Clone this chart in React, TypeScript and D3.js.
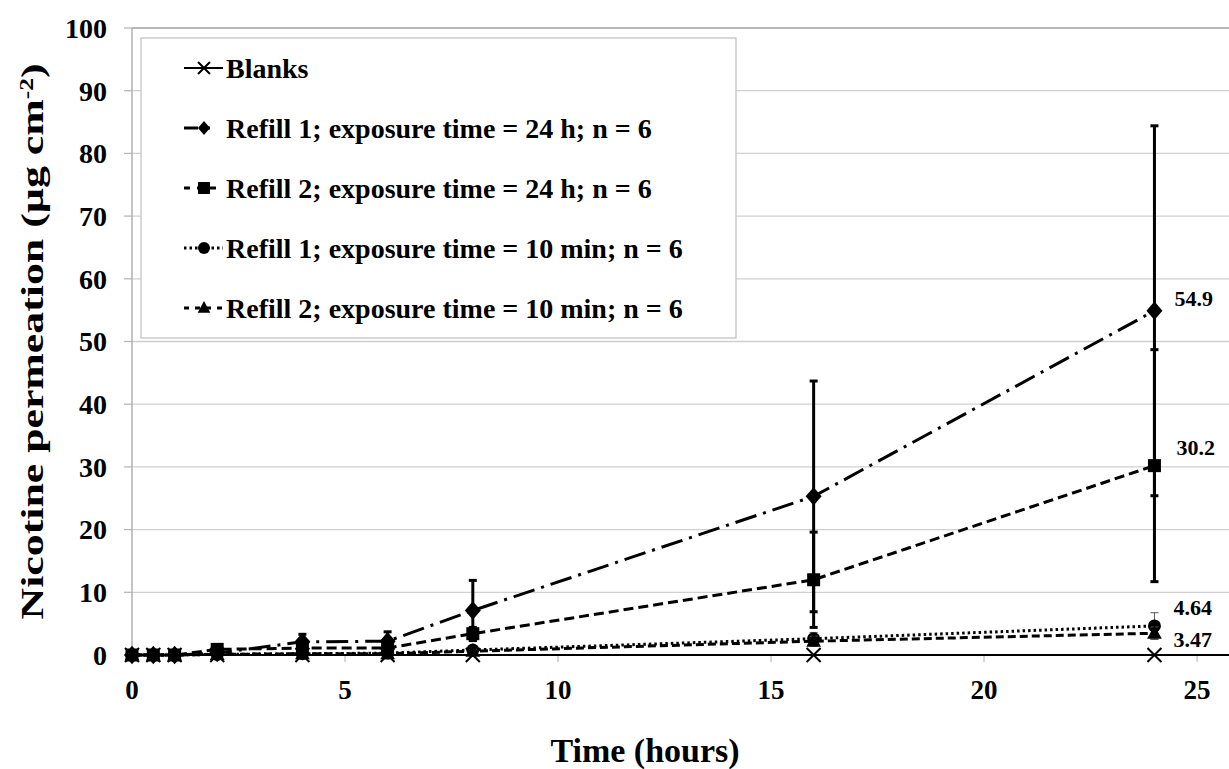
import React from "react";
import * as d3 from "d3";

// sampling times (hours)
const times = [0, 0.5, 1, 2, 4, 6, 8, 16, 24];

const blanks = [0, 0, 0, 0, 0, 0, 0, 0, 0];
const refill1Day = [0, 0, 0, 0.3, 2.1, 2.2, 7.1, 25.3, 54.9];
const refill1DaySd = [0, 0, 0, 0.2, 1.2, 1.5, 4.8, 18.4, 29.5];
const refill2Day = [0, 0, 0, 0.9, 1.1, 1.1, 3.4, 12.0, 30.2];
const refill2DaySd = [0, 0, 0, 0.2, 0.3, 0.3, 1.0, 7.6, 18.5];
const refill1Min = [0, 0, 0, 0.1, 0.2, 0.3, 0.8, 2.6, 4.64];
const refill1MinSd = [0.3, 0.3, 0.3, 0.2, 0.2, 0.3, 0.4, 1.0, 2.1];
const refill2Min = [0, 0, 0, 0.1, 0.2, 0.2, 0.6, 2.2, 3.47];
const refill2MinSd = [0.2, 0.2, 0.2, 0.1, 0.1, 0.1, 0.3, 0.8, 1.0];

const legendLabels = [
  "Blanks",
  "Refill 1; exposure time = 24 h; n = 6",
  "Refill 2; exposure time = 24 h; n = 6",
  "Refill 1; exposure time = 10 min; n = 6",
  "Refill 2; exposure time = 10 min; n = 6",
];
const endLabels = ["54.9", "30.2", "4.64", "3.47"];

const xTicks = [0, 5, 10, 15, 20, 25];
const yTicks = [0, 10, 20, 30, 40, 50, 60, 70, 80, 90, 100];

const W = 1229;
const H = 769;
const SERIF = "Liberation Serif";

type Marker = "x" | "diamond" | "square" | "circle" | "triangle";

function markerPath(kind: Marker, r: number) {
  switch (kind) {
    case "diamond":
      return `M0,${-r * 1.15}L${r},0L0,${r * 1.15}L${-r},0Z`;
    case "square":
      return `M${-r},${-r}H${r}V${r}H${-r}Z`;
    case "circle":
      return d3.symbol(d3.symbolCircle, Math.PI * r * r)() as string;
    case "triangle":
      return `M0,${-r * 1.15}L${r * 1.05},${r * 0.8}L${-r * 1.05},${r * 0.8}Z`;
    default:
      return `M${-r},${-r}L${r},${r}M${r},${-r}L${-r},${r}`;
  }
}

const series = [
  { values: blanks, sd: null as number[] | null, marker: "x" as Marker, dash: "", legDash: "", lw: 2, r: 7, ebw: 0 },
  { values: refill1Day, sd: refill1DaySd, marker: "diamond" as Marker, dash: "22,7,3,7", legDash: "14,10,2,20", lw: 3, r: 8, ebw: 3 },
  { values: refill2Day, sd: refill2DaySd, marker: "square" as Marker, dash: "10,5", legDash: "6,7", lw: 3, r: 6.5, ebw: 3 },
  { values: refill1Min, sd: refill1MinSd, marker: "circle" as Marker, dash: "2.5,3", legDash: "2.5,3", lw: 3, r: 6.5, ebw: 1 },
  { values: refill2Min, sd: refill2MinSd, marker: "triangle" as Marker, dash: "8,4", legDash: "5,6", lw: 3, r: 7, ebw: 1 },
];

export default function App() {
  const x = d3.scaleLinear().domain([0, 25.75]).range([132, 1229]);
  const y = d3.scaleLinear().domain([0, 100]).range([655, 28]);

  const line = d3
    .line<number>()
    .x((_, i) => x(times[i]))
    .y((d) => y(d));

  // end-of-series value labels, offsets from the last point
  const labelOffsets = [
    { dx: 20, dy: -12 },
    { dx: 22, dy: -18 },
    { dx: 19, dy: -19 },
    { dx: 19, dy: 6 },
  ];

  const legX = 141;
  const legY = 38;
  const legW = 595;
  const legH = 300;

  return (
    <svg
      width={W}
      height={H}
      style={{ position: "absolute", left: 0, top: 0, background: "#fff", fontFamily: SERIF, fontWeight: 700 }}
    >
      <rect width={W} height={H} fill="#fff" />

      {/* gridlines */}
      {yTicks.map((t) => (
        <g key={t}>
          {t > 0 && (
            <line
              x1={x(0)}
              x2={W}
              y1={y(t)}
              y2={y(t)}
              stroke={t === 100 ? "#b8b8b8" : "#d0d0d0"}
              strokeWidth={t === 100 ? 2 : 1.3}
            />
          )}
          <line x1={x(0) - 8} x2={x(0)} y1={y(t)} y2={y(t)} stroke="#b8b8b8" strokeWidth={1.3} />
          <text x={107} y={y(t)} dy="0.35em" textAnchor="end" fontSize={28} fill="#000">
            {t}
          </text>
        </g>
      ))}

      {/* y axis line */}
      <line x1={x(0)} x2={x(0)} y1={y(100)} y2={y(0)} stroke="#b0b0b0" strokeWidth={1.5} />

      {/* x axis */}
      {xTicks.map((t) => (
        <g key={t}>
          <line x1={x(t)} x2={x(t)} y1={y(0)} y2={y(0) + 7} stroke="#c0c0c0" strokeWidth={1.3} />
          <text x={x(t)} y={699} textAnchor="middle" fontSize={27} fill="#000">
            {t}
          </text>
        </g>
      ))}

      {/* legend */}
      <rect x={legX} y={legY} width={legW} height={legH} fill="#fff" stroke="#c4c4c4" strokeWidth={1.3} />
      {legendLabels.map((lab, i) => {
        const s = series[i];
        const cy = 68 + i * 60;
        return (
          <g key={lab}>
            <line
              x1={184}
              x2={223}
              y1={cy}
              y2={cy}
              stroke="#000"
              strokeWidth={s.lw}
              strokeDasharray={s.legDash || undefined}
            />
            <path
              d={markerPath(s.marker, 6)}
              transform={`translate(204,${cy})`}
              fill={s.marker === "x" ? "none" : "#000"}
              stroke="#000"
              strokeWidth={s.marker === "x" ? 2 : 0}
            />
            <text x={226} y={cy} dy="0.35em" fontSize={28} fill="#000">
              {lab}
            </text>
          </g>
        );
      })}

      {/* x axis line */}
      <line x1={x(0)} x2={W} y1={y(0)} y2={y(0)} stroke="#000" strokeWidth={2} />

      {/* series */}
      {series.map((s, si) => (
        <g key={si}>
          {s.sd &&
            s.values.map((v, i) => {
              const e = s.sd![i];
              if (e <= 0) return null;
              const cx = x(times[i]);
              const col = s.ebw === 1 ? "#555" : "#000";
              return (
                <g key={i} stroke={col} strokeWidth={s.ebw}>
                  <line x1={cx} x2={cx} y1={y(v - e)} y2={y(v + e)} />
                  <line x1={cx - 4} x2={cx + 4} y1={y(v + e)} y2={y(v + e)} />
                  <line x1={cx - 4} x2={cx + 4} y1={y(v - e)} y2={y(v - e)} />
                </g>
              );
            })}
          <path
            d={line(s.values) as string}
            fill="none"
            stroke="#000"
            strokeWidth={s.lw}
            strokeDasharray={s.dash || undefined}
          />
          {s.values.map((v, i) => (
            <path
              key={i}
              d={markerPath(s.marker, s.r)}
              transform={`translate(${x(times[i])},${y(v)})`}
              fill={s.marker === "x" ? "none" : "#000"}
              stroke="#000"
              strokeWidth={s.marker === "x" ? 2 : 0}
            />
          ))}
        </g>
      ))}

      {/* end labels */}
      {endLabels.map((lab, i) => {
        const s = series[i + 1];
        const last = s.values.length - 1;
        return (
          <text
            key={lab}
            x={x(times[last]) + labelOffsets[i].dx}
            y={y(s.values[last]) + labelOffsets[i].dy}
            dy="0.35em"
            fontSize={22}
            fill="#000"
          >
            {lab}
          </text>
        );
      })}

      {/* axis titles */}
      <text x={645} y={762} textAnchor="middle" fontSize={34} fill="#000">
        Time (hours)
      </text>
      <text
        transform={`translate(43,${(y(0) + y(100)) / 2}) rotate(-90)`}
        textAnchor="middle"
        fontSize={31}
        fill="#000"
        textLength={556}
        lengthAdjust="spacingAndGlyphs"
      >
        Nicotine permeation (µg cm
        <tspan baselineShift="super" fontSize={18}>
          -2
        </tspan>
        )
      </text>
    </svg>
  );
}
